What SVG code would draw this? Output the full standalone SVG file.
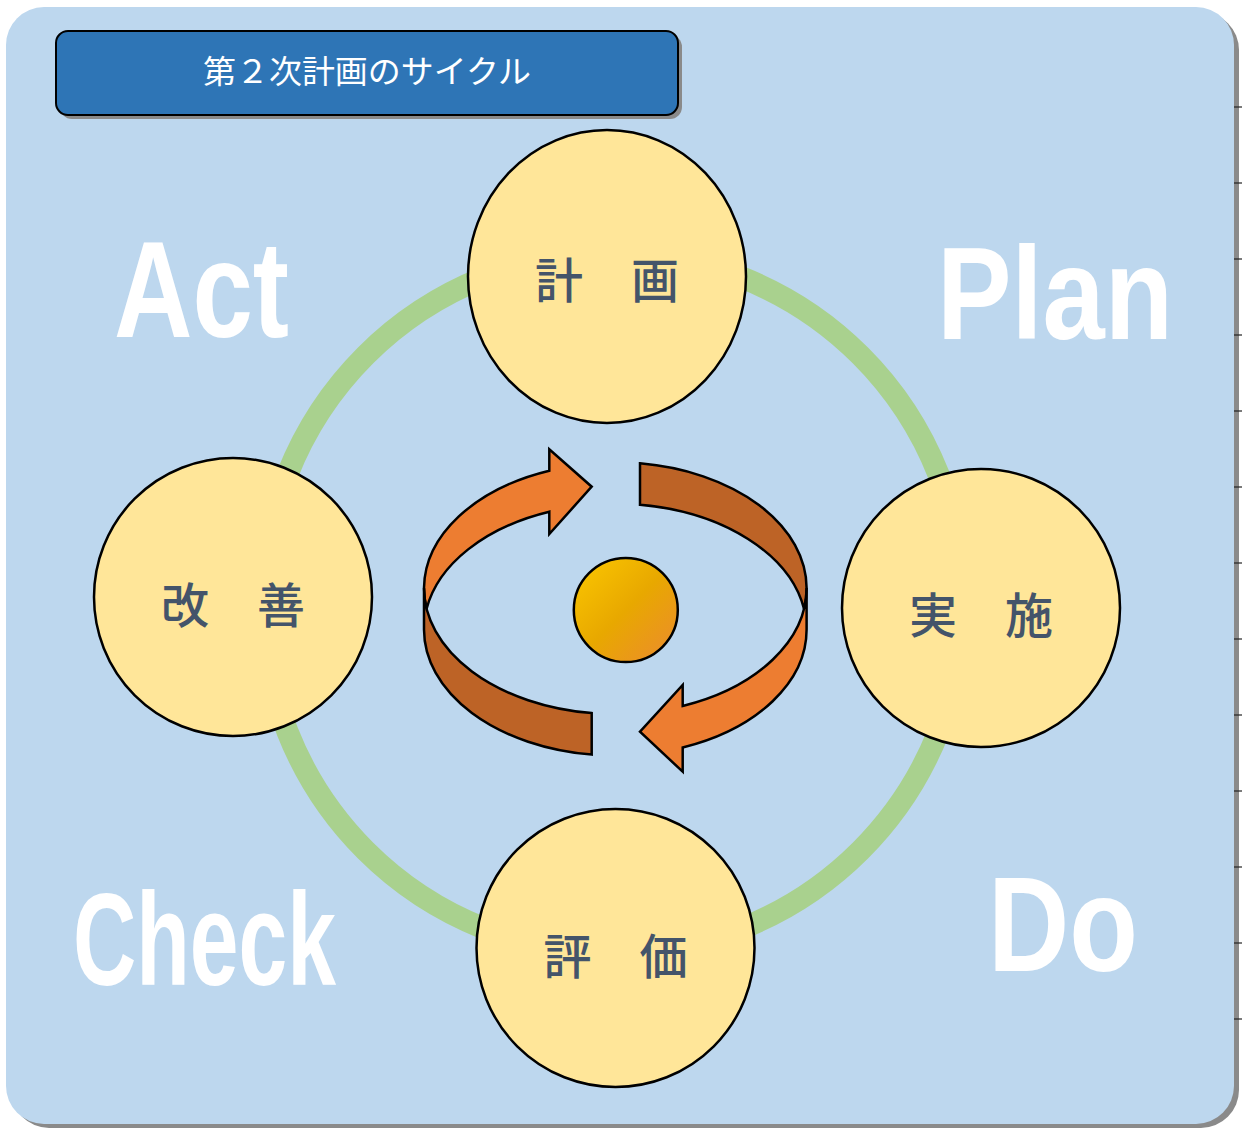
<svg xmlns="http://www.w3.org/2000/svg" width="1242" height="1128" viewBox="0 0 1242 1128">
  <defs>
    <linearGradient id="ballGrad" x1="0" y1="0" x2="1" y2="1">
      <stop offset="0" stop-color="#fcc800"/>
      <stop offset="0.5" stop-color="#e8a800"/>
      <stop offset="1" stop-color="#ec8a30"/>
    </linearGradient>
    <style>
      .node { fill: #ffe699; stroke: #000; stroke-width: 2.5; }
      .nodeText { font-family: "Noto Sans CJK JP", "Noto Sans", sans-serif; font-size: 48px; font-weight: 500; fill: #44546a; text-anchor: middle; dominant-baseline: central; }
      .big { font-family: "Liberation Sans", Arial, sans-serif; font-weight: bold; fill: #ffffff; }
      .ring { fill: none; stroke: #a9d18e; stroke-width: 22; }
      .light { fill: #ed7d31; stroke: #000; stroke-width: 2.5; stroke-linejoin: miter; }
      .dark { fill: #bd6326; stroke: #000; stroke-width: 2.5; stroke-linejoin: miter; }
      .tick { stroke: #222; stroke-width: 1.2; }
    </style>
  </defs>

  <!-- background panel -->
  <g id="background">
    <rect x="11" y="12" width="1228" height="1116" rx="38" ry="38" fill="#8a8a8a"/>
    <rect x="6" y="7" width="1228" height="1117" rx="38" ry="38" fill="#bdd7ee"/>
    <g class="tick">
      <line x1="1234" y1="107" x2="1242" y2="107"/>
      <line x1="1234" y1="183" x2="1242" y2="183"/>
      <line x1="1234" y1="259" x2="1242" y2="259"/>
      <line x1="1234" y1="335" x2="1242" y2="335"/>
      <line x1="1234" y1="411" x2="1242" y2="411"/>
      <line x1="1234" y1="487" x2="1242" y2="487"/>
      <line x1="1234" y1="563" x2="1242" y2="563"/>
      <line x1="1234" y1="639" x2="1242" y2="639"/>
      <line x1="1234" y1="715" x2="1242" y2="715"/>
      <line x1="1234" y1="791" x2="1242" y2="791"/>
      <line x1="1234" y1="867" x2="1242" y2="867"/>
      <line x1="1234" y1="943" x2="1242" y2="943"/>
      <line x1="1234" y1="1019" x2="1242" y2="1019"/>
    </g>
  </g>

  <!-- title -->
  <g id="title">
    <rect x="60" y="35" width="622" height="84" rx="12" ry="12" fill="#8a8a8a"/>
    <rect x="56" y="31" width="622" height="84" rx="12" ry="12" fill="#2e75b6" stroke="#000" stroke-width="2"/>
    <text x="367" y="69" font-family="'Noto Sans CJK JP', 'Noto Sans', sans-serif" font-size="32" fill="#ffffff" text-anchor="middle" dominant-baseline="central" textLength="328" lengthAdjust="spacingAndGlyphs">第２次計画のサイクル</text>
  </g>

  <!-- PDCA words -->
  <g id="labels">
    <text class="big" x="114" y="337" font-size="137" textLength="175" lengthAdjust="spacingAndGlyphs">Act</text>
    <text class="big" x="937" y="339" font-size="132" textLength="236" lengthAdjust="spacingAndGlyphs">Plan</text>
    <text class="big" x="73" y="985" font-size="131" textLength="263" lengthAdjust="spacingAndGlyphs">Check</text>
    <text class="big" x="988" y="971" font-size="135" textLength="150" lengthAdjust="spacingAndGlyphs">Do</text>
  </g>

  <!-- connector ring -->
  <g id="connectors">
    <circle class="ring" cx="613" cy="603" r="350"/>
  </g>

  <!-- nodes -->
  <g id="node-plan">
    <ellipse class="node" cx="607" cy="276.5" rx="139" ry="146.5"/>
    <text class="nodeText" x="607" y="277">計　画</text>
  </g>
  <g id="node-do">
    <circle class="node" cx="981" cy="608" r="139"/>
    <text class="nodeText" x="981" y="612">実　施</text>
  </g>
  <g id="node-check">
    <circle class="node" cx="615.5" cy="948" r="139"/>
    <text class="nodeText" x="615.5" y="953">評　価</text>
  </g>
  <g id="node-act">
    <circle class="node" cx="233" cy="597" r="139"/>
    <text class="nodeText" x="233" y="602">改　善</text>
  </g>

  <!-- central cycle arrows -->
  <g id="cycle-arrows">
    <path class="light" d="M 549.3,470.7 A 191.3 126 0 0 0 424,588 A 191.3 126 0 0 0 426.6,608.8 A 191.3 126 0 0 1 549.3,511.7 L 549.3,534 L 591.7,486.7 L 549.3,449.3 Z"/>
    <path class="dark" d="M 640,463.3 A 191.3 126 0 0 1 806.6,588 A 191.3 126 0 0 1 804,608.8 A 191.3 126 0 0 0 640,504.8 Z"/>
    <path class="dark" d="M 424,588 A 191.3 126 0 0 0 591.7,713.1 L 591.7,754.6 A 191.3 126 0 0 1 424,629.5 Z"/>
    <path class="light" d="M 806.6,588 A 191.3 126 0 0 1 682.7,706 L 682.7,685 L 640,731.7 L 682.7,771.7 L 682.7,747.5 A 191.3 126 0 0 0 806.6,629.5 Z"/>
    <circle cx="625.8" cy="610" r="52" fill="url(#ballGrad)" stroke="#000" stroke-width="2.5"/>
  </g>
</svg>
